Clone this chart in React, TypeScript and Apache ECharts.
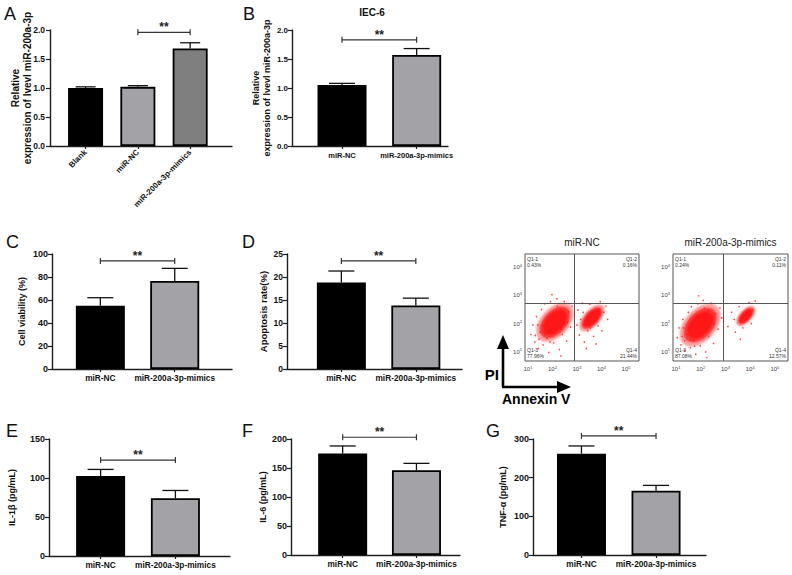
import React, { useEffect, useRef } from 'react';
import * as echarts from 'echarts';

const FONT = '"Liberation Sans", Arial, Helvetica, sans-serif';

// ---------------- data ----------------
const categoriesA = ['Blank', 'miR-NC', 'miR-200a-3p-mimics'];
const meanA = [1.0, 1.02, 1.68];
const sdA = [0.02, 0.02, 0.1];
const sigA = [1, 2, 1.96];

const categories2 = ['miR-NC', 'miR-200a-3p-mimics'];
const meanB = [1.05, 1.57];
const sdB = [0.03, 0.11];
const sigB = [0, 1, 1.83];

const meanC = [55, 76.5];
const sdC = [7, 11];
const sigC = [0, 1, 94];

const meanD = [18.8, 13.8];
const sdD = [2.5, 1.6];
const sigD = [0, 1, 23.5];

const meanE = [102.5, 74];
const sdE = [8.5, 10];
const sigE = [0, 1, 123];

const meanF = [175, 146];
const sdF = [13, 12];
const sigF = [0, 1, 203];

const meanG = [262, 166];
const sdG = [20, 14];
const sigG = [0, 1, 308];

// flow cytometry (log10 units)
const flowTicksX = [1, 2, 3, 4, 5];
const flowTicksY = [1, 2, 3, 4];
const gateNc = [2.88, 2.71];
const gateMimics = [2.92, 2.71];
const quadNames = ['Q1-1', 'Q1-2', 'Q1-3', 'Q1-4'];
const quadNc = ['0.43%', '0.16%', '77.96%', '21.44%'];
const quadMimics = ['0.24%', '0.11%', '87.08%', '12.57%'];
const clustersNc = [[2.1, 2.05], [3.61, 2.2]];
const clustersMimics = [[1.98, 1.95], [3.82, 2.27]];
const dotsNc = [
  [1.12, 1.62], [1.2, 1.95], [1.28, 1.35], [1.35, 2.25], [1.42, 1.12], [1.5, 1.7], [1.55, 2.5], [1.62, 1.25],
  [1.68, 2.7], [1.78, 1.48], [1.85, 0.98], [1.92, 2.78], [2.05, 1.32], [2.18, 2.88], [2.28, 1.08], [2.4, 1.62],
  [2.48, 2.78], [2.58, 1.38], [2.66, 2.42], [2.74, 1.88], [2.8, 2.62], [2.34, 0.86], [1.98, 3.02], [1.3, 1.58],
  [2.62, 2.05], [1.58, 1.92], [2.2, 2.62], [3.0, 1.95], [3.04, 2.48], [3.1, 1.6], [3.22, 2.72], [3.3, 1.35],
  [3.44, 1.75], [3.52, 2.68], [3.68, 1.55], [3.86, 1.92], [3.95, 2.78], [4.1, 2.4], [4.18, 2.62], [3.38, 1.12],
  [3.78, 1.28], [4.02, 1.75], [3.15, 2.15], [4.25, 2.15], [1.45, 1.45], [1.7, 1.62], [2.5, 2.3], [2.35, 2.5],
  [1.9, 1.35], [1.4, 1.95], [3.3, 1.95], [3.9, 2.5], [3.55, 1.85], [3.25, 2.4],
];
const dotsMimics = [
  [1.05, 1.5], [1.12, 1.85], [1.2, 1.25], [1.28, 2.15], [1.35, 1.05], [1.45, 1.62], [1.5, 2.4], [1.58, 1.15],
  [1.62, 2.6], [1.72, 1.4], [1.8, 0.92], [1.88, 2.7], [1.98, 1.22], [2.1, 2.82], [2.2, 1.0], [2.32, 1.55],
  [2.42, 2.72], [2.52, 1.3], [2.6, 2.35], [2.7, 1.8], [2.78, 2.55], [2.25, 0.8], [1.92, 2.98], [1.25, 1.55],
  [2.55, 2.0], [1.5, 1.85], [2.15, 2.55], [2.85, 2.2], [3.1, 1.9], [3.25, 2.4], [3.4, 1.7], [3.55, 2.6],
  [3.7, 1.85], [3.95, 2.75], [4.1, 2.5], [4.05, 2.0], [3.6, 1.45], [3.35, 2.15], [4.2, 2.8], [1.35, 1.4],
  [1.6, 1.45], [2.45, 2.2], [2.3, 2.45], [1.75, 1.2], [1.3, 1.85], [3.6, 2.1], [4.0, 2.45],
];

// ---------------- styles / layout ----------------
const BLACK = '#000000';
const LIGHT = '#a3a3a7';
const MID = '#7f7f7f';
const AXIS = '#1e1e1e';
const RED = '#ff1414';

type Panel = {
  cats: string[]; vals: number[]; errs: number[]; colors: string[]; sig: number[];
  yMax: number; yInt: number; yDec: number; yName: string; nameGap: number; nameSize: number; moveName: boolean;
  grid: { left: number; top: number; width: number; height: number };
  xMin: number; xMax: number; barW: number; rotate: number; cap: number; xFont: number; yFont: number; yMargin: number;
};

const panels: Panel[] = [
  { cats: categoriesA, vals: meanA, errs: sdA, colors: [BLACK, LIGHT, MID], sig: sigA, yMax: 2, yInt: 0.5, yDec: 1,
    yName: 'Relative\nexpression of lvevl miR-200a-3p', nameGap: 17, nameSize: 10, moveName: false,
    grid: { left: 50, top: 30, width: 182, height: 116 }, xMin: -0.68, xMax: 2.8, barW: 35, rotate: 45, cap: 10,
    xFont: 8, yFont: 8.5, yMargin: 5 },
  { cats: categories2, vals: meanB, errs: sdB, colors: [BLACK, LIGHT], sig: sigB, yMax: 2, yInt: 0.5, yDec: 1,
    yName: 'Relative\nexpression of lvevl miR-200a-3p', nameGap: 20, nameSize: 9, moveName: true,
    grid: { left: 292, top: 30, width: 156, height: 116 }, xMin: -0.67, xMax: 1.42, barW: 49, rotate: 0, cap: 13,
    xFont: 7.5, yFont: 8, yMargin: 4 },
  { cats: categories2, vals: meanC, errs: sdC, colors: [BLACK, LIGHT], sig: sigC, yMax: 100, yInt: 20, yDec: 0,
    yName: 'Cell viability (%)', nameGap: 25, nameSize: 9, moveName: true,
    grid: { left: 52, top: 254, width: 180, height: 115 }, xMin: -0.65, xMax: 1.77, barW: 49, rotate: 0, cap: 13,
    xFont: 8.3, yFont: 9, yMargin: 4 },
  { cats: categories2, vals: meanD, errs: sdD, colors: [BLACK, LIGHT], sig: sigD, yMax: 25, yInt: 5, yDec: 0,
    yName: 'Apoptosis rate(%)', nameGap: 15, nameSize: 9.5, moveName: true,
    grid: { left: 287, top: 254, width: 175, height: 115 }, xMin: -0.73, xMax: 1.62, barW: 49, rotate: 0, cap: 13,
    xFont: 8.3, yFont: 8.5, yMargin: 4 },
  { cats: categories2, vals: meanE, errs: sdE, colors: [BLACK, LIGHT], sig: sigE, yMax: 150, yInt: 50, yDec: 0,
    yName: 'IL-1β (pg/mL)', nameGap: 32, nameSize: 9, moveName: true,
    grid: { left: 49, top: 439, width: 181, height: 117 }, xMin: -0.69, xMax: 1.73, barW: 49, rotate: 0, cap: 13,
    xFont: 8.3, yFont: 9, yMargin: 4 },
  { cats: categories2, vals: meanF, errs: sdF, colors: [BLACK, LIGHT], sig: sigF, yMax: 200, yInt: 50, yDec: 0,
    yName: 'IL-6 (pg/mL)', nameGap: 20, nameSize: 9, moveName: true,
    grid: { left: 291, top: 439, width: 169, height: 116 }, xMin: -0.7, xMax: 1.59, barW: 49, rotate: 0, cap: 13,
    xFont: 8.3, yFont: 9, yMargin: 4 },
  { cats: categories2, vals: meanG, errs: sdG, colors: [BLACK, LIGHT], sig: sigG, yMax: 300, yInt: 100, yDec: 0,
    yName: 'TNF-α (pg/mL)', nameGap: 25, nameSize: 9, moveName: true,
    grid: { left: 533, top: 439, width: 173, height: 116 }, xMin: -0.65, xMax: 1.67, barW: 49, rotate: 0, cap: 13,
    xFont: 8.3, yFont: 9, yMargin: 4 },
];

const flows = [
  { title: 'miR-NC', grid: { left: 525, top: 254, width: 114, height: 107 }, gate: gateNc, quad: quadNc,
    clusters: clustersNc, shapes: [[46, 28], [33, 16]], dots: dotsNc },
  { title: 'miR-200a-3p-mimics', grid: { left: 673, top: 254, width: 115, height: 107 }, gate: gateMimics, quad: quadMimics,
    clusters: clustersMimics, shapes: [[50, 31], [25, 12]], dots: dotsMimics },
];
const blobLayers = [
  { k: 1.0, o: 0.22, blur: 4 },
  { k: 0.8, o: 0.5, blur: 3 },
  { k: 0.6, o: 0.9, blur: 2 },
];

function buildOption() {
  const grid: any[] = [];
  const xAxis: any[] = [];
  const yAxis: any[] = [];
  const series: any[] = [];
  const graphic: any[] = [];

  panels.forEach((p, idx) => {
    grid.push({ ...p.grid, show: false, containLabel: false, outerBoundsMode: 'none' });
    const pos = p.cats.map((_, i) => i);
    xAxis.push({
      gridIndex: idx, type: 'value', min: p.xMin, max: p.xMax,
      axisLine: { show: true, onZero: false, lineStyle: { color: AXIS, width: 1.4 } },
      axisTick: { show: true, customValues: pos, length: 3, lineStyle: { color: AXIS, width: 1.2 } },
      axisLabel: {
        show: true, customValues: pos, formatter: (v: number) => p.cats[Math.round(v)] ?? '',
        rotate: p.rotate, fontSize: p.xFont, fontWeight: 'bold', fontFamily: FONT, color: '#111', margin: 5,
      },
      splitLine: { show: false },
    });
    yAxis.push({
      gridIndex: idx, type: 'value', min: 0, max: p.yMax, interval: p.yInt,
      axisLine: { show: true, onZero: false, lineStyle: { color: AXIS, width: 1.4 } },
      axisTick: { show: true, length: 4, lineStyle: { color: AXIS, width: 1.2 } },
      axisLabel: {
        formatter: (v: number) => v.toFixed(p.yDec), fontSize: p.yFont, fontWeight: 'bold', fontFamily: FONT,
        color: '#111', margin: p.yMargin,
      },
      splitLine: { show: false },
      name: p.yName, nameLocation: 'middle', nameGap: p.nameGap, nameMoveOverlap: p.moveName,
      nameTextStyle: { fontSize: p.nameSize, fontWeight: 'bold', fontFamily: FONT, color: '#111', lineHeight: p.nameSize + 2 },
    });
    series.push({
      type: 'bar', xAxisIndex: idx, yAxisIndex: idx, barWidth: p.barW, silent: true,
      data: p.vals.map((v, i) => ({ value: [i, v], itemStyle: { color: p.colors[i] } })),
      itemStyle: { borderColor: '#000', borderWidth: 1.8 },
    });
    series.push({
      type: 'custom', xAxisIndex: idx, yAxisIndex: idx, clip: false, silent: true, z: 5,
      data: p.vals.map((v, i) => [i, v, p.errs[i]]),
      encode: { x: 0, y: 1 },
      renderItem: (_params: any, api: any) => {
        const x = api.value(0), v = api.value(1), e = api.value(2);
        const p0 = api.coord([x, v]);
        const p1 = api.coord([x, v + e]);
        const st = { stroke: '#111', lineWidth: 1.3 };
        return {
          type: 'group', children: [
            { type: 'line', shape: { x1: p0[0], y1: p0[1], x2: p1[0], y2: p1[1] }, style: st },
            { type: 'line', shape: { x1: p1[0] - p.cap, y1: p1[1], x2: p1[0] + p.cap, y2: p1[1] }, style: st },
          ],
        };
      },
    });
    series.push({
      type: 'custom', xAxisIndex: idx, yAxisIndex: idx, clip: false, silent: true, z: 5,
      data: [p.sig],
      encode: { x: [0, 1], y: 2 },
      renderItem: (_params: any, api: any) => {
        const a = api.coord([api.value(0), api.value(2)]);
        const b = api.coord([api.value(1), api.value(2)]);
        const st = { stroke: '#333', lineWidth: 1.2 };
        return {
          type: 'group', children: [
            { type: 'line', shape: { x1: a[0], y1: a[1], x2: b[0], y2: b[1] }, style: st },
            { type: 'line', shape: { x1: a[0], y1: a[1] - 3, x2: a[0], y2: a[1] + 3 }, style: st },
            { type: 'line', shape: { x1: b[0], y1: b[1] - 3, x2: b[0], y2: b[1] + 3 }, style: st },
            {
              type: 'text', x: (a[0] + b[0]) / 2, y: a[1] + 1,
              style: { text: '**', fill: '#222', align: 'center', verticalAlign: 'bottom', fontSize: 12, fontWeight: 'bold', fontFamily: FONT },
            },
          ],
        };
      },
    });
  });

  flows.forEach((f, j) => {
    const idx = panels.length + j;
    grid.push({ ...f.grid, show: true, borderColor: '#555', borderWidth: 1, containLabel: false, outerBoundsMode: 'none' });
    const rich = {
      b: { fontSize: 6, fontFamily: FONT, color: '#444' },
      s: { fontSize: 4, fontFamily: FONT, color: '#444', padding: [0, 0, 4, 0] },
    };
    xAxis.push({
      gridIndex: idx, type: 'value', min: 0.88, max: 5.53,
      axisLine: { show: false }, axisTick: { show: false }, splitLine: { show: false },
      axisLabel: { customValues: flowTicksX, formatter: (v: number) => `{b|10}{s|${v}}`, rich, margin: 4 },
    });
    yAxis.push({
      gridIndex: idx, type: 'value', min: 0.68, max: 4.46,
      axisLine: { show: false }, axisTick: { show: false }, splitLine: { show: false },
      axisLabel: { customValues: flowTicksY, formatter: (v: number) => `{b|10}{s|${v}}`, rich, margin: 3 },
    });
    blobLayers.forEach((l) => {
      series.push({
        type: 'scatter', xAxisIndex: idx, yAxisIndex: idx, silent: true, symbol: 'circle',
        data: f.clusters.map((c, ci) => ({
          value: c,
          symbolSize: [f.shapes[ci][0] * l.k, f.shapes[ci][1] * l.k],
          symbolRotate: 48,
          itemStyle: { color: RED, opacity: l.o, shadowBlur: l.blur, shadowColor: RED },
        })),
      });
    });
    series.push({
      type: 'scatter', xAxisIndex: idx, yAxisIndex: idx, silent: true, symbolSize: 1.6, z: 3,
      itemStyle: { color: RED }, data: f.dots,
      markLine: {
        silent: true, symbol: 'none', label: { show: false },
        lineStyle: { color: '#555', width: 1, type: 'solid' },
        data: [{ xAxis: f.gate[0] }, { yAxis: f.gate[1] }],
      },
    });
    const L = f.grid.left, T = f.grid.top, R = f.grid.left + f.grid.width, B = f.grid.top + f.grid.height;
    const qs = { fontSize: 5, fontFamily: FONT, fill: '#333', lineHeight: 6 };
    graphic.push(
      { type: 'text', x: L + 2, y: T + 2, style: { ...qs, text: `${quadNames[0]}\n${f.quad[0]}`, align: 'left', verticalAlign: 'top' } },
      { type: 'text', x: R - 2, y: T + 2, style: { ...qs, text: `${quadNames[1]}\n${f.quad[1]}`, align: 'right', verticalAlign: 'top' } },
      { type: 'text', x: L + 2, y: B - 2, style: { ...qs, text: `${quadNames[2]}\n${f.quad[2]}`, align: 'left', verticalAlign: 'bottom' } },
      { type: 'text', x: R - 2, y: B - 2, style: { ...qs, text: `${quadNames[3]}\n${f.quad[3]}`, align: 'right', verticalAlign: 'bottom' } },
      { type: 'text', x: (L + R) / 2, y: T - 12, style: { text: f.title, fontSize: 10, fontFamily: FONT, fill: '#222', align: 'center', verticalAlign: 'middle' } },
    );
  });

  // panel letters
  const letters = [
    ['A', 4, 5], ['B', 243, 5], ['C', 6, 233], ['D', 242, 233], ['E', 6, 422], ['F', 242, 422], ['G', 486, 422],
  ];
  letters.forEach(([t, x, y]) => {
    graphic.push({ type: 'text', x, y, style: { text: t, fontSize: 18, fontFamily: FONT, fill: '#111', align: 'left', verticalAlign: 'top' } });
  });
  graphic.push({ type: 'text', x: 372, y: 12, style: { text: 'IEC-6', fontSize: 10, fontWeight: 'bold', fontFamily: FONT, fill: '#111', align: 'center', verticalAlign: 'middle' } });

  // PI / Annexin V axis arrows
  const ax = { stroke: '#000', lineWidth: 2.6 };
  graphic.push(
    { type: 'line', shape: { x1: 503, y1: 387, x2: 503, y2: 346 }, style: ax },
    { type: 'polygon', shape: { points: [[497, 349], [509, 349], [503, 335]] }, style: { fill: '#000' } },
    { type: 'line', shape: { x1: 502, y1: 387, x2: 559, y2: 387 }, style: ax },
    { type: 'polygon', shape: { points: [[557, 381], [557, 393], [571, 387]] }, style: { fill: '#000' } },
    { type: 'text', x: 499, y: 374, style: { text: 'PI', fontSize: 15, fontWeight: 'bold', fontFamily: FONT, fill: '#000', align: 'right', verticalAlign: 'middle' } },
    { type: 'text', x: 502, y: 399, style: { text: 'Annexin V', fontSize: 14, fontWeight: 'bold', fontFamily: FONT, fill: '#000', align: 'left', verticalAlign: 'middle' } },
  );

  return {
    animation: false,
    backgroundColor: '#ffffff',
    textStyle: { fontFamily: FONT },
    grid, xAxis, yAxis, series, graphic,
  };
}

export default function App() {
  const ref = useRef<HTMLDivElement>(null);
  useEffect(() => {
    if (!ref.current) return;
    const chart = echarts.init(ref.current, undefined, { renderer: 'svg' });
    chart.setOption(buildOption() as any);
    return () => chart.dispose();
  }, []);
  return <div ref={ref} style={{ position: 'absolute', left: 0, top: 0, width: 792, height: 575 }} />;
}
